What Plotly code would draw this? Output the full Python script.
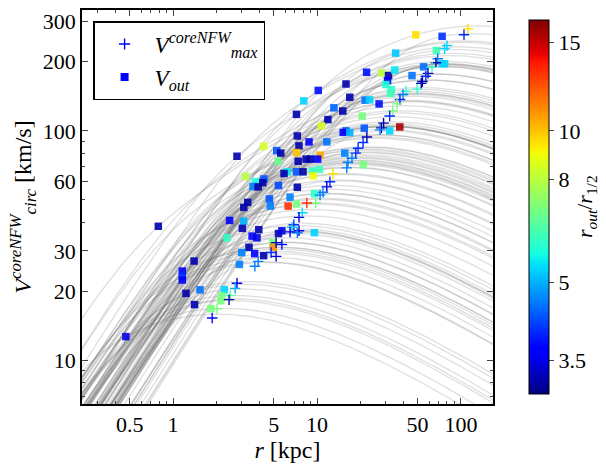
import numpy as np
import plotly.graph_objects as go

# ---- data ----
# squares: V_out at r_out, coloured by r_out / r_1/2
sq_r = [10.2, 8.1, 7.2, 11.9, 10.7, 7.3, 7.5, 8.8, 11.7, 7.2, 10.5, 7.4, 8.4, 9.0, 10.1,
        4.26, 2.78, 5.25, 5.6, 5.36, 7.2, 8.0, 6.2, 5.9, 9.3, 10.4, 9.4, 3.18, 4.28, 3.72,
        3.59, 3.9, 4.2, 5.4, 7.3, 9.6, 6.5, 7.2, 6.3, 4.67, 4.74, 3.3, 3.1, 2.47, 3.1,
        3.03, 2.37, 3.54, 3.94, 3.83, 5.4, 5.7, 9.6, 0.79, 3.37, 4.93, 4.97, 3.69, 4.26,
        3.0, 2.89, 1.40, 1.16, 1.16, 1.16, 1.23, 1.54, 1.41, 2.27, 2.18, 2.15, 1.83, 0.47,
        48.6, 74, 35.2, 67.5, 74.6, 77, 55, 22.1, 28.2, 31.4, 34.7, 30.9, 45.7, 30.1,
        32.9, 32.4, 15.9, 16.9, 21.6, 23.2, 27, 13.1, 15.1, 20.6, 37.6, 32, 21.3, 15.9,
        15.2, 16.9, 15.6, 21]
sq_v = [150, 135, 118, 112, 105, 95, 86, 89.5, 89.5, 80.4, 78.4, 73.7, 75.3, 75.3, 75.3,
        85.6, 77.5, 82, 80, 73.7, 66.3, 66.3, 66.3, 65.2, 66.8, 67.9, 63.7, 63.3, 61.7, 60.1,
        57.2, 57.0, 59.5, 57.8, 56.8, 53.2, 51.4, 48, 47, 50.5, 47, 48.8, 46.4, 40.7, 40.4,
        37.6, 34.2, 34.8, 37.1, 34.2, 35.7, 36.7, 36, 38.4, 31.1, 32.6, 31.1, 29.2, 28.6,
        29.5, 26.2, 27.1, 24.5, 23.2, 22.4, 19.6, 20.3, 17.5, 20.3, 19.1, 18.2, 16.8, 12.7,
        262, 258, 218, 224, 196, 196, 190, 180, 178.5, 174, 184, 165.5, 174, 159,
        151, 145.5, 160, 140, 136, 136.5, 131, 126, 122, 116, 104, 100, 102.7, 100,
        98.4, 98.4, 80, 71.2]
sq_ratio = [3.8, 5.3, 3.2, 3.2, 8.5, 3.2, 3.2, 3.6, 4.5, 10, 10.5, 3.2, 3.2, 3.2, 3.6,
            8.5, 3.2, 4.3, 3.2, 6.8, 4.3, 3.2, 5.5, 3.2, 6.0, 6.2, 9.0, 8.0, 4.3, 5.8,
            4.6, 3.2, 3.2, 4.2, 3.2, 6.0, 4.6, 7.0, 13, 4.3, 4.6, 3.2, 3.2, 3.6, 5.0,
            3.2, 6.0, 3.6, 3.2, 3.5, 3.2, 3.5, 5.3, 3.2, 3.2, 7.0, 11, 3.7, 3.2,
            4.6, 4.6, 3.2, 3.6, 4.0, 3.6, 3.2, 4.5, 3.2, 5.3, 7.0, 7.0, 7.0, 3.5,
            9.5, 4.0, 5.2, 6.2, 5.3, 5.3, 4.5, 3.8, 8.0, 3.2, 5.5, 3.6, 4.5, 5.8,
            6.0, 6.2, 3.2, 3.2, 4.5, 5.3, 3.8, 4.4, 3.2, 7.0, 15.5, 5.3, 4.3, 4.3,
            3.6, 5.0, 4.6, 7.0]

# plus markers: V_max^coreNFW at r_max
pl_r = [112, 105, 80, 77, 69, 67, 63, 59, 57, 54, 53, 49.6, 41.5, 39.6, 37.7, 36, 33.6, 32,
        29, 28, 27.4, 22.2, 20.9, 19.3, 18.6, 17.5, 16.4, 16.1, 12.9, 12.3, 11.7, 11.0, 10.5,
        9.8, 8.5, 7.9, 7.5, 6.9, 6.7, 7.5, 7.3, 6.5, 5.7, 5.2, 4.8, 5.2, 3.9, 3.7, 2.78,
        2.7, 2.5, 2.45, 2.02, 1.87]
pl_v = [278, 262, 235, 228, 206, 198, 189, 178, 173, 164, 161, 152, 149, 144, 137, 131, 122,
        116, 108, 103, 101, 94, 89, 84, 80, 76, 73, 69, 65, 60, 57, 54, 52.5, 48.5, 48.5,
        44, 42, 39, 38, 36.7, 36, 36.3, 32, 32.6, 29.5, 28.4, 27, 25.7, 21.7, 20.6, 19.2,
        18.4, 16.8, 15.3]
pl_ratio = [9.5, 4.0, 5.3, 5.3, 4.6, 3.2, 6.0, 3.2, 4.0, 3.2, 3.2, 6.0, 6.0, 4.6, 4.0, 7.0,
            7.0, 4.0, 3.2, 3.2, 4.6, 3.2, 4.0, 4.0, 4.0, 4.6, 4.6, 4.6, 9.5, 4.0, 3.5, 4.6,
            4.6, 7.0, 13, 5.3, 3.5, 4.0, 5.3, 3.5, 4.6, 3.5, 3.8, 3.2, 4.0, 3.5, 4.6, 4.6,
            3.5, 5.0, 6.5, 3.2, 7.0, 3.8]

x_ticks = [0.5, 1, 5, 10, 50, 100]
x_minor = [0.3, 0.4, 0.6, 0.7, 0.8, 0.9, 2, 3, 4, 6, 7, 8, 9, 20, 30, 40, 60, 70, 80, 90]
y_ticks = [10, 20, 30, 60, 100, 200, 300]
y_minor = [7, 8, 9, 40, 50, 70, 80, 90]
cb_ticks = [3.5, 5, 8, 10, 15]

# ---- coreNFW model curves (one per galaxy, through its V_out point) ----
def vcirc(r, v0, rc):
    rmax = 1.9 * (v0 / 15.0) ** (1 / 0.7)
    rs = rmax / 2.163
    x = r / rs
    m = np.log1p(x) - x / (1 + x)
    norm = (np.log1p(2.163) - 2.163 / 3.163) / 2.163
    return v0 * np.sqrt((m / x) / norm) * np.sqrt(np.tanh(r / rc))

r_grid = np.logspace(np.log10(0.2), np.log10(190), 220)
v0_grid = np.logspace(0.9, 2.8, 600)

fig = go.Figure()
for r_o, v_o, q in zip(sq_r, sq_v, sq_ratio):
    rc = 1.75 * r_o / q
    vv = vcirc(r_o, v0_grid, rc)
    v0 = np.interp(v_o, vv, v0_grid)
    fig.add_trace(go.Scatter(x=r_grid, y=vcirc(r_grid, v0, rc), mode="lines",
                             line=dict(color="rgba(110,110,110,0.22)", width=1.3),
                             hoverinfo="skip", showlegend=False))

# jet colormap (matplotlib)
rc_pts = [(0, 0), (0.35, 0), (0.66, 1), (0.89, 1), (1, 0.5)]
gc_pts = [(0, 0), (0.125, 0), (0.375, 1), (0.64, 1), (0.91, 0), (1, 0)]
bc_pts = [(0, 0.5), (0.11, 1), (0.34, 1), (0.65, 0), (1, 0)]
ts = sorted({p[0] for p in rc_pts + gc_pts + bc_pts})
def ch(pts, t):
    return np.interp(t, [p[0] for p in pts], [p[1] for p in pts])
jet = [[t, "rgb(%d,%d,%d)" % (round(255 * ch(rc_pts, t)), round(255 * ch(gc_pts, t)),
                              round(255 * ch(bc_pts, t)))] for t in ts]

fig.add_trace(go.Scatter(x=sq_r, y=sq_v, mode="markers", showlegend=False,
                         marker=dict(symbol="square", size=7.5, opacity=0.9,
                                     color=np.log10(sq_ratio), coloraxis="coloraxis",
                                     line=dict(width=0))))
fig.add_trace(go.Scatter(x=pl_r, y=pl_v, mode="markers", showlegend=False,
                         marker=dict(symbol="cross-thin", size=7.5,
                                     color=np.log10(pl_ratio), coloraxis="coloraxis",
                                     line=dict(width=1.4, color=np.log10(pl_ratio),
                                               coloraxis="coloraxis"))))
# legend entries
fig.add_trace(go.Scatter(x=[None], y=[None], mode="markers",
                         name="<i>V</i><sup><i>coreNFW</i></sup><sub><i>max</i></sub>",
                         marker=dict(symbol="cross-thin", size=8, color="blue",
                                     line=dict(width=1.4, color="blue"))))
fig.add_trace(go.Scatter(x=[None], y=[None], mode="markers",
                         name="<i>V</i><sub><i>out</i></sub>",
                         marker=dict(symbol="square", size=8, color="blue")))

FONT = "Times New Roman, Liberation Serif, DejaVu Serif, serif"

axis_common = dict(type="log", ticks="inside", ticklen=6, tickwidth=1,
                   showline=True, linecolor="black", linewidth=1.5, mirror="allticks",
                   showgrid=False, zeroline=False, tickfont=dict(size=22))

fig.update_layout(
    width=606, height=464,
    margin=dict(l=82, r=113, t=8, b=58),
    paper_bgcolor="white", plot_bgcolor="white",
    font=dict(family=FONT, size=22, color="black"),
    xaxis=dict(axis_common, range=[np.log10(0.233), np.log10(167)],
               tickvals=x_ticks, ticktext=["%g" % v for v in x_ticks],
               minor=dict(tickvals=x_minor, ticks="inside", ticklen=3, tickwidth=1,
                          showgrid=False),
               title=dict(text="<i>r</i> [kpc]", font=dict(size=24), standoff=2)),
    yaxis=dict(axis_common, range=[np.log10(6.46), np.log10(336)],
               tickvals=y_ticks, ticktext=["%g" % v for v in y_ticks],
               minor=dict(tickvals=y_minor, ticks="inside", ticklen=3, tickwidth=1,
                          showgrid=False),
               title=dict(text="<i>V</i><sup><i>coreNFW</i></sup><sub><i>circ</i></sub> [km/s]",
                          font=dict(size=24), standoff=4)),
    coloraxis=dict(colorscale=jet, cmin=np.log10(3.0), cmax=np.log10(16.6),
                   colorbar=dict(thickness=20, len=1.0, lenmode="fraction", y=0.5,
                                 yanchor="middle", x=1.063, xanchor="left",
                                 outlinewidth=1, outlinecolor="black",
                                 tickvals=np.log10(cb_ticks).tolist(),
                                 ticktext=["%g" % v for v in cb_ticks],
                                 ticks="outside", ticklen=5, tickfont=dict(size=22))),
    legend=dict(x=0.027, y=0.972, xanchor="left", yanchor="top",
                bgcolor="white", bordercolor="black", borderwidth=1.5,
                font=dict(size=23), itemwidth=50, tracegroupgap=4),
    annotations=[dict(text="<i>r</i><sub><i>out</i></sub>/<i>r</i><sub>1/2</sub>",
                      xref="paper", yref="paper", x=(586 - 82) / 411, y=0.5,
                      xanchor="center", yanchor="middle", textangle=-90,
                      showarrow=False, font=dict(size=22))],
)

fig.write_html("out.html")
